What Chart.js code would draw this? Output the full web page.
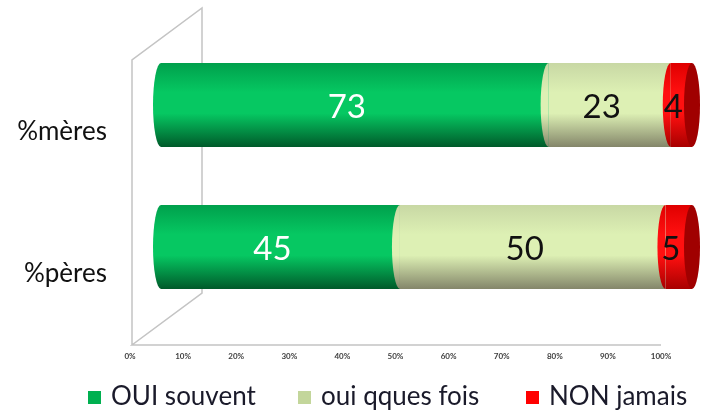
<!DOCTYPE html>
<html>
<head>
<meta charset="utf-8">
<script src="https://cdn.jsdelivr.net/npm/chart.js@4/dist/chart.umd.min.js"></script>
<style>
  html, body { margin: 0; padding: 0; background: #fff; }
  #wrap { position: relative; width: 704px; height: 414px; }
  #legend { position: absolute; left: 0; top: 381px; width: 704px; height: 28px;
            font-family: Lato, sans-serif; font-size: 26px; color: #1a1a2a; }
  #legend .item { position: absolute; top: 0; white-space: nowrap; line-height: 28px; }
  #legend .box { display: inline-block; width: 13px; height: 13px; margin-right: 10px; vertical-align: 1px; }
</style>
</head>
<body>
<div id="wrap">
  <canvas id="chart"></canvas>
  <div id="legend"></div>
</div>
<script>
// Data
const categories = ['%mères', '%pères'];
const seriesNames = ['OUI souvent', 'oui qques fois', 'NON jamais'];
const ouiSouvent = [73, 45];
const ouiQquesFois = [23, 50];
const nonJamais = [4, 5];
const xTickValues = [0, 10, 20, 30, 40, 50, 60, 70, 80, 90, 100];

// Colours: legend colour + cylinder shading (top, highlight, bottom)
const seriesColors = ['#00b050', '#c3d69b', '#ff0000'];
const shades = [
  ['#00a04c', '#06c862', '#005a2a'],
  ['#c8d8a4', '#ddf0b4', '#84866a'],
  ['#e00000', '#ff1010', '#a80000']
];
const capColor = '#a00000';
const BAR_PCT = 0.59;
const CAP_RX = 8;

function cylinderFill(i) {
  return function(ctx) {
    if (ctx.type !== 'data') return seriesColors[i];
    const chart = ctx.chart;
    const y = chart.scales.y;
    if (!y) return seriesColors[i];
    const c = y.getPixelForValue(ctx.dataIndex);
    const half = (y.height / categories.length) * BAR_PCT / 2;
    if (!isFinite(c) || !isFinite(half) || half <= 0) return seriesColors[i];
    const g = chart.ctx.createLinearGradient(0, c - half, 0, c + half);
    g.addColorStop(0, shades[i][0]);
    g.addColorStop(0.35, shades[i][1]);
    g.addColorStop(0.6, shades[i][1]);
    g.addColorStop(1, shades[i][2]);
    return g;
  };
}

// 3D box walls (front plane / back plane offsets from chart area)
const wallsPlugin = {
  id: 'walls',
  beforeDatasetsDraw(chart) {
    const a = chart.chartArea;
    const ctx = chart.ctx;
    const fl = a.left - 29, fr = a.right - 31, ft = a.top + 26, fb = a.bottom + 27;
    const dx = 70, dy = -52;
    ctx.save();
    ctx.strokeStyle = '#c4c4c4';
    ctx.lineWidth = 1.5;
    ctx.beginPath();
    ctx.moveTo(fl, fb); ctx.lineTo(fl, ft); ctx.lineTo(fl + dx, ft + dy);
    ctx.lineTo(fl + dx, fb + dy); ctx.lineTo(fl, fb); ctx.lineTo(fr, fb);
    ctx.stroke();
    ctx.restore();
  }
};

// Rounded cylinder ends + value labels (drawn left to right over the bars)
const cylinderPlugin = {
  id: 'cylinder',
  afterDatasetsDraw(chart) {
    const ctx = chart.ctx;
    const last = chart.data.datasets.length - 1;
    ctx.save();
    chart.data.datasets.forEach((ds, i) => {
      chart.getDatasetMeta(i).data.forEach(el => {
        const h = el.height / 2;
        ctx.fillStyle = el.options.backgroundColor;
        ctx.beginPath();
        ctx.ellipse(el.base, el.y, CAP_RX, h, 0, Math.PI / 2, Math.PI * 1.5);
        ctx.closePath();
        ctx.fill();
        if (i === last) {
          ctx.fillStyle = capColor;
          ctx.beginPath();
          ctx.ellipse(el.x, el.y, CAP_RX, h, 0, 0, Math.PI * 2);
          ctx.fill();
        }
      });
    });
    ctx.font = '33px Lato';
    ctx.textAlign = 'center';
    ctx.textBaseline = 'middle';
    chart.data.datasets.forEach((ds, i) => {
      chart.getDatasetMeta(i).data.forEach((el, j) => {
        ctx.fillStyle = i === 0 ? '#ffffff' : '#111111';
        ctx.fillText(String(ds.data[j]), (el.base + el.x) / 2 - CAP_RX, el.y + 2);
      });
    });
    ctx.restore();
  }
};

const chart = new Chart(document.getElementById('chart'), {
  type: 'bar',
  data: {
    labels: categories,
    datasets: [
      { label: seriesNames[0], data: ouiSouvent, backgroundColor: cylinderFill(0) },
      { label: seriesNames[1], data: ouiQquesFois, backgroundColor: cylinderFill(1) },
      { label: seriesNames[2], data: nonJamais, backgroundColor: cylinderFill(2) }
    ]
  },
  options: {
    indexAxis: 'y',
    responsive: true,
    maintainAspectRatio: false,
    animation: false,
    datasets: { bar: { barPercentage: BAR_PCT, categoryPercentage: 1, borderWidth: 0 } },
    layout: { padding: { left: 10, right: 12, top: 34, bottom: 52 } },
    scales: {
      x: {
        stacked: true,
        min: 0,
        max: 100,
        afterBuildTicks: s => { s.ticks = xTickValues.map(v => ({ value: v })); },
        afterFit: s => { s.height = 44; },
        grid: { display: false, drawTicks: true, tickLength: 34 },
        border: { display: false },
        ticks: {
          padding: 0,
          labelOffset: -31,
          maxRotation: 0,
          autoSkip: false,
          color: '#404040',
          font: { family: 'Lato', size: 8, weight: 'bold' },
          callback: v => v + '%'
        }
      },
      y: {
        stacked: true,
        afterFit: s => { s.width = 151; },
        grid: { display: false, drawTicks: true, tickLength: 54 },
        border: { display: false },
        ticks: {
          padding: 0,
          labelOffset: 27,
          color: '#111111',
          font: { family: 'Lato', size: 26 }
        }
      }
    },
    plugins: {
      tooltip: { enabled: false },
      legend: { display: false }
    }
  },
  plugins: [wallsPlugin, cylinderPlugin]
});

// HTML legend
const legendLeft = [88, 298, 526];
const legendEl = document.getElementById('legend');
seriesNames.forEach((name, i) => {
  const item = document.createElement('span');
  item.className = 'item';
  item.style.left = legendLeft[i] + 'px';
  const box = document.createElement('span');
  box.className = 'box';
  box.style.background = seriesColors[i];
  item.appendChild(box);
  item.appendChild(document.createTextNode(name));
  legendEl.appendChild(item);
});
</script>
</body>
</html>
